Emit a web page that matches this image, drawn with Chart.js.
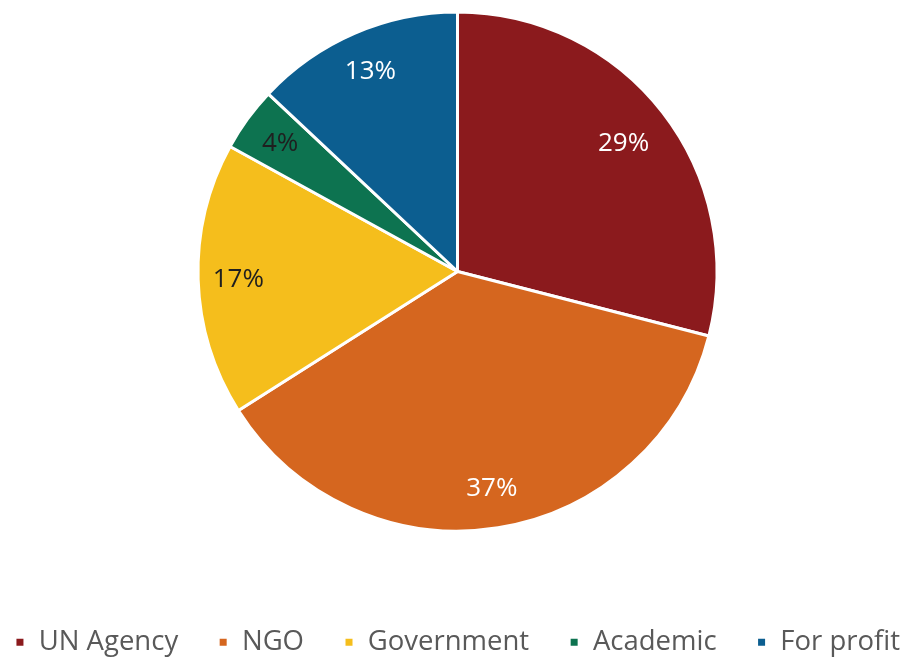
<!DOCTYPE html>
<html><head><meta charset="utf-8">
<script src="https://cdn.jsdelivr.net/npm/chart.js@4/dist/chart.umd.min.js"></script>
<style>html,body{margin:0;padding:0;background:#fff}#wrap{width:915px;height:659px}</style>
</head><body><div id="wrap"><canvas id="c"></canvas></div>
<script>
const categories = ["UN Agency", "NGO", "Government", "Academic", "For profit"];
const values = [29, 37, 17, 4, 13];
const colors = ["#8B1A1D", "#D5661F", "#F5BE1C", "#0D7350", "#0C5E90"];
const labelColors = ["#ffffff", "#ffffff", "#1f1f1f", "#1f1f1f", "#ffffff"];

const pctLabels = {
  id: 'pctLabels',
  afterDatasetsDraw(chart) {
    const ctx = chart.ctx;
    const meta = chart.getDatasetMeta(0);
    const total = values.reduce((a, b) => a + b, 0);
    ctx.save();
    ctx.font = '26px "Open Sans"';
    ctx.textAlign = 'center';
    ctx.textBaseline = 'middle';
    meta.data.forEach((arc, i) => {
      const p = arc.getProps(['x', 'y', 'startAngle', 'endAngle', 'outerRadius'], true);
      const mid = (p.startAngle + p.endAngle) / 2;
      const r = p.outerRadius * (i === 0 ? 0.81 : 0.845);
      ctx.fillStyle = labelColors[i];
      ctx.fillText(Math.round(values[i] / total * 100) + '%', p.x + Math.cos(mid) * r, p.y + Math.sin(mid) * r + 1);
    });
    ctx.restore();
  }
};

new Chart(document.getElementById('c'), {
  type: 'pie',
  data: { labels: categories, datasets: [{ data: values, backgroundColor: colors, borderColor: '#ffffff', borderWidth: 3 }] },
  options: {
    responsive: true, maintainAspectRatio: false, animation: false,
    layout: { padding: { top: 10.5, bottom: -7, left: -40, right: -40 } },
    plugins: {
      tooltip: { enabled: false },
      legend: {
        position: 'bottom',
        title: { display: true, text: '', font: { size: 10, lineHeight: 1 }, padding: { top: 46, bottom: 0 } },
        labels: { boxWidth: 10, boxHeight: 10, padding: 40, color: '#595959', font: { family: '"Open Sans"', size: 27.5 } }
      }
    }
  },
  plugins: [pctLabels]
});
</script></body></html>
